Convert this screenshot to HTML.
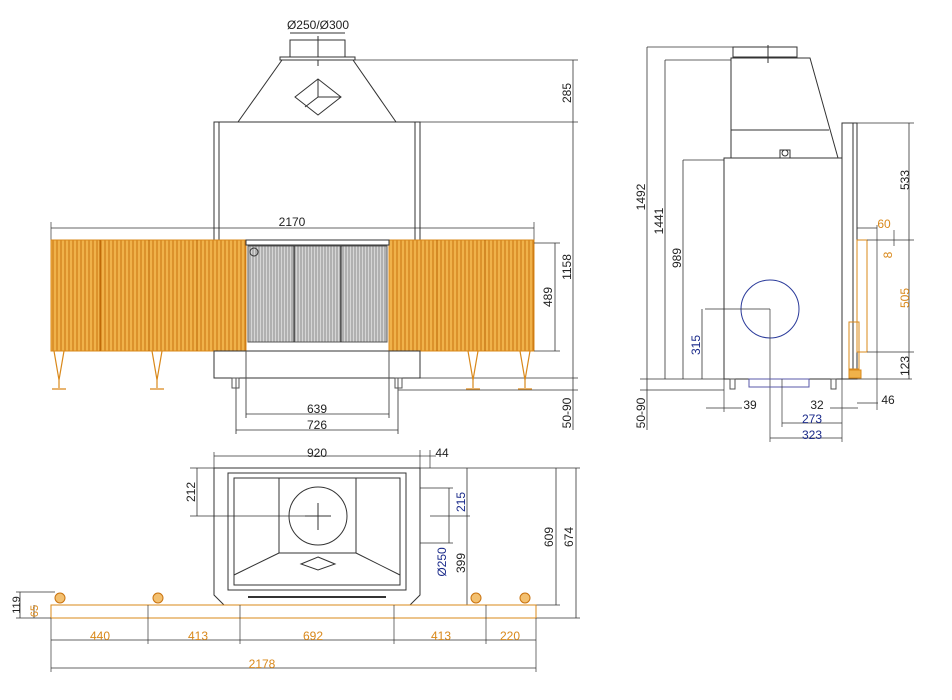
<!DOCTYPE html>
<html><head><meta charset="utf-8"><style>body{margin:0;background:#fff}svg{display:block}text{font-family:"Liberation Sans",Arial,sans-serif;font-size:12px;fill:#222}.o{fill:#d9881a}.b{fill:#1a2a8a}</style></head><body>
<svg width="952" height="700" viewBox="0 0 952 700" xmlns="http://www.w3.org/2000/svg">
<defs>
<pattern id="or" width="4" height="10" patternUnits="userSpaceOnUse"><rect width="4" height="10" fill="#f0b24a"/><line x1="1" y1="0" x2="1" y2="10" stroke="#c9730f" stroke-width="1"/></pattern>
<pattern id="gr" width="3" height="10" patternUnits="userSpaceOnUse"><rect width="3" height="10" fill="#d6d6d6"/><line x1="1" y1="0" x2="1" y2="10" stroke="#777" stroke-width="0.8"/></pattern>
</defs>
<g stroke="#333" stroke-width="1" fill="none">
<!-- FRONT VIEW -->
<line x1="290" y1="33" x2="345" y2="33"/>
<rect x="290" y="40" width="55" height="17" fill="#fff"/>
<line x1="318" y1="36" x2="318" y2="66"/>
<rect x="280" y="57" width="75" height="3" fill="#fff"/>
<polygon points="282,60 353,60 396,122 238,122"/>
<polygon points="318,79 341,97 318,115 295,97"/>
<polyline points="318,79 318,97 341,97 M318,97" />
<line x1="318" y1="97" x2="305" y2="107"/>
<rect x="214" y="122" width="206" height="118"/>
<line x1="219" y1="122" x2="219" y2="240"/><line x1="415" y1="122" x2="415" y2="240"/>
<line x1="355" y1="60" x2="578" y2="60" stroke-width="0.7"/>
<line x1="420" y1="122" x2="578" y2="122" stroke-width="0.7"/>
<line x1="573" y1="60" x2="573" y2="430" stroke-width="0.8"/>
<line x1="420" y1="378" x2="578" y2="378" stroke-width="0.7"/>
<line x1="398" y1="390" x2="578" y2="390" stroke-width="0.7"/>
<line x1="51" y1="228" x2="534" y2="228" stroke-width="0.8"/>
<line x1="51" y1="222" x2="51" y2="240" stroke-width="0.7"/><line x1="534" y1="222" x2="534" y2="240" stroke-width="0.7"/>
<rect x="51" y="240" width="195" height="111" fill="url(#or)" stroke="#d9881a"/>
<rect x="389" y="240" width="145" height="111" fill="url(#or)" stroke="#d9881a"/>
<line x1="100" y1="240" x2="100" y2="351" stroke="#b86000"/><line x1="149" y1="240" x2="149" y2="351" stroke="#b86000"/><line x1="197" y1="240" x2="197" y2="351" stroke="#b86000"/>
<line x1="437" y1="240" x2="437" y2="351" stroke="#b86000"/><line x1="485" y1="240" x2="485" y2="351" stroke="#b86000"/>
<rect x="246" y="240" width="143" height="5" fill="#fff"/>
<rect x="248" y="246" width="139" height="96" fill="url(#gr)" stroke="#555"/>
<line x1="294" y1="246" x2="294" y2="342" stroke="#222"/><line x1="341" y1="246" x2="341" y2="342" stroke="#222"/>
<circle cx="254" cy="252" r="4"/>
<line x1="534" y1="243" x2="560" y2="243" stroke-width="0.7"/><line x1="534" y1="351" x2="560" y2="351" stroke-width="0.7"/>
<line x1="555" y1="243" x2="555" y2="351" stroke-width="0.8"/>
<rect x="214" y="351" width="206" height="27"/>
<line x1="246" y1="351" x2="246" y2="378"/><line x1="389" y1="351" x2="389" y2="378"/>
<g stroke="#555"><line x1="236" y1="378" x2="236" y2="434"/><line x1="398" y1="378" x2="398" y2="434"/><rect x="232" y="378" width="7" height="10"/><rect x="395" y="378" width="7" height="10"/>
<line x1="246" y1="351" x2="246" y2="418"/><line x1="389" y1="351" x2="389" y2="418"/></g>
<line x1="246" y1="414" x2="389" y2="414" stroke-width="0.8"/>
<line x1="236" y1="430" x2="398" y2="430" stroke-width="0.8"/>
<g stroke="#d9881a" stroke-width="1.2">
<path d="M54,351 L59,380 L64,351 M59,380 v8 M52,389 h14"/><path d="M152,351 L157,380 L162,351 M157,380 v8 M150,389 h14"/>
<path d="M468,351 L473,380 L478,351 M473,380 v8 M466,389 h14"/><path d="M520,351 L525,380 L530,351 M525,380 v8 M518,389 h14"/></g>
<!-- SIDE VIEW -->
<rect x="733" y="47" width="64" height="10"/>
<line x1="768" y1="45" x2="768" y2="63"/>
<polygon points="731,58 810,58 838,158 731,158"/>
<line x1="731" y1="130" x2="829" y2="130"/>
<rect x="780" y="150" width="10" height="8" fill="#fff"/><circle cx="785" cy="153" r="3"/>
<rect x="724" y="158" width="118" height="221"/>
<rect x="842" y="123" width="15" height="256"/>
<line x1="853" y1="123" x2="853" y2="379"/>
<circle cx="770" cy="309" r="29" stroke="#2a3a9a"/>
<line x1="705" y1="309" x2="770" y2="309" stroke-width="0.7"/><line x1="770" y1="309" x2="770" y2="442" stroke-width="0.7"/>
<line x1="640" y1="379" x2="912" y2="379" stroke-width="0.8"/>
<line x1="640" y1="390" x2="724" y2="390" stroke-width="0.7"/>
<line x1="647" y1="47" x2="733" y2="47" stroke-width="0.7"/><line x1="647" y1="47" x2="647" y2="430" stroke-width="0.8"/>
<line x1="665" y1="60" x2="731" y2="60" stroke-width="0.7"/><line x1="665" y1="60" x2="665" y2="379" stroke-width="0.8"/>
<line x1="683" y1="160" x2="724" y2="160" stroke-width="0.7"/><line x1="683" y1="160" x2="683" y2="379" stroke-width="0.8"/>
<line x1="702" y1="309" x2="702" y2="379" stroke-width="0.8"/>
<rect x="749" y="379" width="60" height="8" stroke="#5a5aaa"/>
<line x1="724" y1="379" x2="724" y2="412" stroke-width="0.7"/><line x1="842" y1="379" x2="842" y2="442" stroke-width="0.7"/>
<line x1="782" y1="379" x2="782" y2="427" stroke-width="0.7"/>
<line x1="706" y1="408" x2="742" y2="408" stroke-width="0.7"/><line x1="830" y1="408" x2="858" y2="408" stroke-width="0.7"/>
<line x1="782" y1="423" x2="842" y2="423" stroke-width="0.8"/><line x1="770" y1="438" x2="842" y2="438" stroke-width="0.8"/>
<line x1="857" y1="403" x2="878" y2="403" stroke-width="0.7"/>
<g stroke="#555"><rect x="730" y="379" width="5" height="10"/><rect x="831" y="379" width="5" height="10"/></g>
<g stroke="#d9881a"><rect x="857" y="240" width="10" height="112"/><rect x="849" y="322" width="10" height="47"/><rect x="849" y="370" width="12" height="8" fill="#f0b24a"/></g>
<line x1="857" y1="123" x2="914" y2="123" stroke-width="0.7"/>
<line x1="867" y1="240" x2="914" y2="240" stroke-width="0.7"/><line x1="867" y1="352" x2="914" y2="352" stroke-width="0.7"/>
<line x1="909" y1="123" x2="909" y2="379" stroke-width="0.8"/>
<line x1="894" y1="230" x2="894" y2="246" stroke-width="0.7"/>
<line x1="857" y1="228" x2="877" y2="228" stroke-width="0.7"/><line x1="877" y1="225" x2="877" y2="410" stroke-width="0.7"/>
<!-- TOP VIEW -->
<path d="M214,468 H420 V595 L410,605 H224 L214,595 Z"/>
<rect x="228" y="473" width="178" height="117"/>
<rect x="234" y="478" width="166" height="107"/>
<rect x="279" y="478" width="77" height="75"/>
<ellipse cx="318" cy="516" rx="29" ry="29"/>
<line x1="305" y1="516" x2="331" y2="516"/><line x1="318" y1="503" x2="318" y2="530"/>
<line x1="279" y1="553" x2="234" y2="575"/><line x1="356" y1="553" x2="400" y2="575"/>
<polygon points="318,557 335,564 318,570 301,564"/>
<line x1="248" y1="597" x2="386" y2="597" stroke-width="2"/>
<line x1="190" y1="468" x2="214" y2="468" stroke-width="0.7"/><line x1="190" y1="516" x2="318" y2="516" stroke-width="0.7"/>
<line x1="197" y1="468" x2="197" y2="516" stroke-width="0.8"/>
<line x1="214" y1="456" x2="420" y2="456" stroke-width="0.8"/><line x1="214" y1="452" x2="214" y2="468" stroke-width="0.7"/><line x1="420" y1="450" x2="420" y2="468" stroke-width="0.7"/>
<line x1="430" y1="450" x2="430" y2="468" stroke-width="0.7"/><line x1="420" y1="456" x2="436" y2="456" stroke-width="0.7"/>
<line x1="420" y1="488" x2="453" y2="488" stroke-width="0.7"/><line x1="430" y1="516" x2="470" y2="516" stroke-width="0.7"/><line x1="420" y1="543" x2="453" y2="543" stroke-width="0.7"/>
<line x1="449" y1="488" x2="449" y2="543" stroke-width="0.8"/>
<line x1="420" y1="468" x2="580" y2="468" stroke-width="0.7"/>
<line x1="467" y1="468" x2="467" y2="605" stroke-width="0.8"/>
<line x1="556" y1="468" x2="556" y2="605" stroke-width="0.8"/><line x1="536" y1="605" x2="560" y2="605" stroke-width="0.7"/>
<line x1="576" y1="468" x2="576" y2="618" stroke-width="0.8"/><line x1="536" y1="618" x2="580" y2="618" stroke-width="0.7"/>
<rect x="51" y="605" width="485" height="13" fill="#fff" stroke="#d9881a"/>
<g stroke="#c9730f" fill="#f3c070"><circle cx="60" cy="598" r="5"/><circle cx="158" cy="598" r="5"/><circle cx="476" cy="598" r="5"/><circle cx="525" cy="598" r="5"/></g>
<line x1="16" y1="592" x2="55" y2="592" stroke-width="0.7"/><line x1="20" y1="592" x2="20" y2="618" stroke-width="0.8"/>
<line x1="34" y1="605" x2="34" y2="618" stroke-width="0.8"/><line x1="16" y1="618" x2="51" y2="618" stroke-width="0.7"/>
<g stroke-width="0.7"><line x1="51" y1="618" x2="51" y2="672"/><line x1="148" y1="605" x2="148" y2="644"/><line x1="240" y1="605" x2="240" y2="644"/><line x1="394" y1="605" x2="394" y2="644"/><line x1="486" y1="605" x2="486" y2="644"/><line x1="536" y1="618" x2="536" y2="672"/></g>
<line x1="51" y1="640" x2="536" y2="640" stroke-width="0.8"/>
<line x1="51" y1="668" x2="536" y2="668" stroke-width="0.8"/>
</g>
<!-- TEXT -->
<text x="318" y="29" text-anchor="middle">Ø250/Ø300</text>
<text x="292" y="226" text-anchor="middle">2170</text>
<text x="317" y="413" text-anchor="middle">639</text>
<text x="317" y="429" text-anchor="middle">726</text>
<text transform="translate(571,93) rotate(-90)" text-anchor="middle">285</text>
<text transform="translate(571,267) rotate(-90)" text-anchor="middle">1158</text>
<text transform="translate(552,297) rotate(-90)" text-anchor="middle">489</text>
<text transform="translate(571,413) rotate(-90)" text-anchor="middle">50-90</text>
<text transform="translate(645,197) rotate(-90)" text-anchor="middle">1492</text>
<text transform="translate(663,221) rotate(-90)" text-anchor="middle">1441</text>
<text transform="translate(681,258) rotate(-90)" text-anchor="middle">989</text>
<text class="b" transform="translate(700,345) rotate(-90)" text-anchor="middle">315</text>
<text transform="translate(645,413) rotate(-90)" text-anchor="middle">50-90</text>
<text x="750" y="409" text-anchor="middle">39</text>
<text x="817" y="409" text-anchor="middle">32</text>
<text class="b" x="812" y="423" text-anchor="middle">273</text>
<text class="b" x="812" y="439" text-anchor="middle">323</text>
<text x="888" y="404" text-anchor="middle">46</text>
<text class="o" x="884" y="228" text-anchor="middle">60</text>
<text transform="translate(909,180) rotate(-90)" text-anchor="middle">533</text>
<text class="o" transform="translate(892,255) rotate(-90)" text-anchor="middle">8</text>
<text class="o" transform="translate(909,298) rotate(-90)" text-anchor="middle">505</text>
<text transform="translate(909,366) rotate(-90)" text-anchor="middle">123</text>
<text x="317" y="457" text-anchor="middle">920</text>
<text x="442" y="457" text-anchor="middle">44</text>
<text transform="translate(195,492) rotate(-90)" text-anchor="middle">212</text>
<text class="b" transform="translate(465,502) rotate(-90)" text-anchor="middle">215</text>
<text class="b" transform="translate(446,562) rotate(-90)" text-anchor="middle">Ø250</text>
<text transform="translate(465,563) rotate(-90)" text-anchor="middle">399</text>
<text transform="translate(553,537) rotate(-90)" text-anchor="middle">609</text>
<text transform="translate(573,537) rotate(-90)" text-anchor="middle">674</text>
<text transform="translate(20,605) rotate(-90)" text-anchor="middle" style="font-size:11px">119</text>
<text class="o" transform="translate(38,611) rotate(-90)" text-anchor="middle" style="font-size:11px">65</text>
<text class="o" x="100" y="640" text-anchor="middle">440</text>
<text class="o" x="198" y="640" text-anchor="middle">413</text>
<text class="o" x="313" y="640" text-anchor="middle">692</text>
<text class="o" x="441" y="640" text-anchor="middle">413</text>
<text class="o" x="510" y="640" text-anchor="middle">220</text>
<text class="o" x="262" y="668" text-anchor="middle">2178</text>
</svg>
</body></html>
